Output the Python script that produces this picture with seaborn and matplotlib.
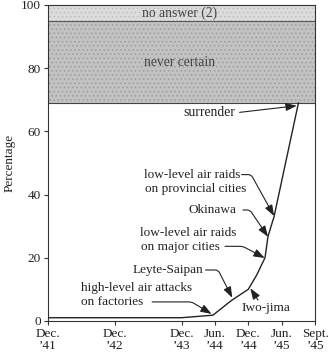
import matplotlib
matplotlib.use("Agg")
import matplotlib.pyplot as plt
import seaborn as sns
import pandas as pd

# ---- data ----
tick_pos = [0, 2, 4, 5, 6, 7, 8]
tick_labels = ["Dec.\n\u201941", "Dec.\n\u201942", "Dec.\n\u201943", "Jun.\n\u201944",
               "Dec.\n\u201944", "Jun.\n\u201945", "Sept.\n\u201945"]
time_x = [0, 4, 4.94, 5.5, 6.0, 6.25, 6.5, 6.59, 6.77, 7.5]
pct_certain = [1, 1, 1.8, 6.5, 10, 14.5, 20, 26.8, 33, 69]
never_certain = (69, 95)
no_answer = (95, 100)

sns.set_theme(style="white")
plt.rcParams["font.family"] = ["Liberation Serif", "DejaVu Serif"]
plt.rcParams["hatch.linewidth"] = 0.6

fig = plt.figure(figsize=(3.3, 3.53), dpi=100)
ax = fig.add_axes([0.145, 0.091, 0.81, 0.895])

ax.axhspan(never_certain[0], never_certain[1], facecolor="#c2c2c2", edgecolor="#9c9c9c",
           hatch="....", lw=0, zorder=0)
ax.axhspan(no_answer[0], no_answer[1], facecolor="#dcdcdc", edgecolor="#bdbdbd",
           hatch="....", lw=0, zorder=0)
ax.axhline(never_certain[0], color="#444444", lw=0.8, zorder=1)
ax.axhline(no_answer[0], color="#555555", lw=0.8, zorder=1)

df = pd.DataFrame({"t": time_x, "p": pct_certain})
sns.lineplot(data=df, x="t", y="p", ax=ax, color="#222222", lw=1.0, sort=False, zorder=3)

ax.set_xlim(0, 8)
ax.set_ylim(0, 100)
ax.set_xticks(tick_pos)
ax.set_xticklabels(tick_labels, fontsize=9.5, linespacing=1.0, color="#222222")
ax.set_yticks([0, 20, 40, 60, 80, 100])
ax.set_yticklabels(["0", "20", "40", "60", "80", "100"], fontsize=9.5, color="#222222")
ax.set_xlabel("")
ax.set_ylabel("Percentage", fontsize=9.5, color="#222222", labelpad=4)
ax.tick_params(axis="both", direction="out", length=3, width=0.8, color="#333333", pad=2,
               bottom=True, left=True)
for s in ax.spines.values():
    s.set_color("#333333")
    s.set_linewidth(0.8)

fs = 9.5
tc = "#222222"
ax.text(3.95, 97.5, "no answer (2)", ha="center", va="center", fontsize=9.8, color="#444444")
ax.text(3.95, 81.8, "never certain", ha="center", va="center", fontsize=9.8, color="#444444")

# label texts (left aligned)
ax.text(4.07, 65.8, "surrender", ha="left", va="center", fontsize=9.8, color=tc)
ax.text(2.88, 46.3, "low-level air raids", ha="left", va="center", fontsize=fs, color=tc)
ax.text(2.91, 41.6, "on provincial cities", ha="left", va="center", fontsize=fs, color=tc)
ax.text(4.22, 35.1, "Okinawa", ha="left", va="center", fontsize=fs, color=tc)
ax.text(2.76, 27.9, "low-level air raids", ha="left", va="center", fontsize=fs, color=tc)
ax.text(2.79, 23.5, "on major cities", ha="left", va="center", fontsize=fs, color=tc)
ax.text(2.55, 16.1, "Leyte-Saipan", ha="left", va="center", fontsize=fs, color=tc)
ax.text(0.99, 10.4, "high-level air attacks", ha="left", va="center", fontsize=fs, color=tc)
ax.text(0.99, 6.0, "on factories", ha="left", va="center", fontsize=fs, color=tc)
ax.text(5.81, 4.1, "Iwo-jima", ha="left", va="center", fontsize=fs, color=tc)

aprops = dict(arrowstyle="-|>,head_length=0.55,head_width=0.2", color="#222222",
              lw=0.8, shrinkA=0, shrinkB=0)


def arrow(start, tip, angB=None):
    cs = "arc3,rad=0" if angB is None else f"angle,angleA=0,angleB={angB},rad=3"
    ax.annotate("", xy=tip, xytext=start, arrowprops=dict(aprops, connectionstyle=cs),
                zorder=4)


arrow((5.74, 66.0), (7.45, 68.1))
arrow((5.8, 46.3), (6.77, 33.2), -61)
arrow((5.84, 35.1), (6.59, 26.6), -56)
arrow((5.3, 23.6), (6.49, 19.9), -28)
arrow((4.72, 16.1), (5.52, 7.3), -63)
arrow((3.12, 6.0), (4.9, 2.2), -31)
arrow((6.29, 6.6), (6.06, 10.3))

fig.savefig("out.png", dpi=100)
